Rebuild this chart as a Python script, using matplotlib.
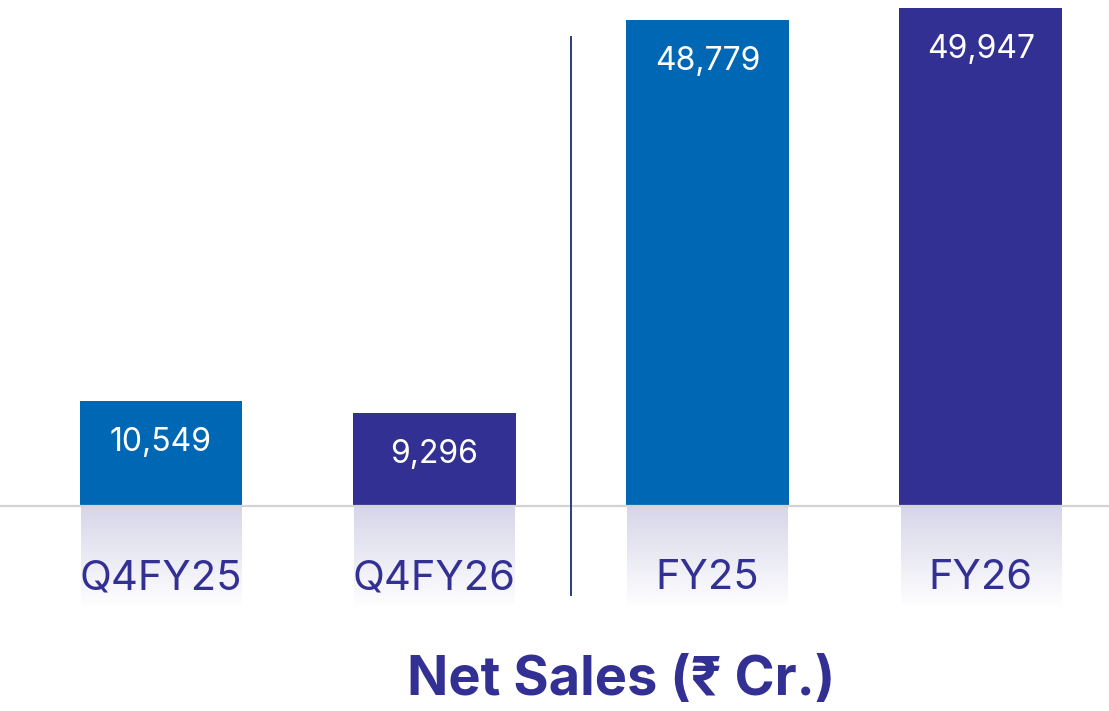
import numpy as np
import matplotlib
matplotlib.use("Agg")
import matplotlib.pyplot as plt
from matplotlib.colors import to_rgb

categories = ["Q4FY25", "Q4FY26", "FY25", "FY26"]
values = [10549, 9296, 48779, 49947]
value_labels = ["10,549", "9,296", "48,779", "49,947"]
title = "Net Sales (₹ Cr.)"

BLUE = "#0067b4"
NAVY = "#333093"
colors = [BLUE, NAVY, BLUE, NAVY]
FONT = ["Inter", "Noto Sans", "DejaVu Sans"]

W, H = 1109, 711
fig = plt.figure(figsize=(W / 100, H / 100), dpi=100)
ax = fig.add_axes([0, 0, 1, 1])
ax.set_xlim(-0.589, 3.469)
ax.set_ylim(-20560, 50750)
ax.axis("off")

x = np.arange(len(categories))
bw = 0.596
ax.bar(x, values, width=bw, color=colors, zorder=3)

# reflection gradient below each bar
refl_depth = 10400
nav = np.array(to_rgb(NAVY))
grad = np.zeros((100, 1, 4))
grad[:, 0, :3] = nav
grad[:, 0, 3] = np.linspace(0.2, 0.0, 100)
for xi in x:
    ax.imshow(grad, extent=[xi - bw / 2 + 0.005, xi + bw / 2 - 0.005, -refl_depth, 0],
              aspect="auto", zorder=1, interpolation="bilinear")

# baseline
ax.axhline(0, color="#d4d4d4", lw=1.6, zorder=4)
# divider
ax.plot([1.5, 1.5], [-8930, 47040], color="#2f3a80", lw=1.4, zorder=4)

for xi, v, lab in zip(x, values, value_labels):
    ax.text(xi, v - 4150, lab, ha="center", va="center", color="white",
            fontsize=23, family=FONT, zorder=5)

for xi, c in zip(x, categories):
    ax.text(xi, -7250, c, ha="center", va="center", color=NAVY,
            fontsize=30, family=FONT, zorder=5)

fig.text(621 / W, 1 - 681 / H, title, ha="center", va="center", color=NAVY,
         fontsize=39, fontweight="bold", family=FONT)

fig.savefig("out.png", dpi=100)
